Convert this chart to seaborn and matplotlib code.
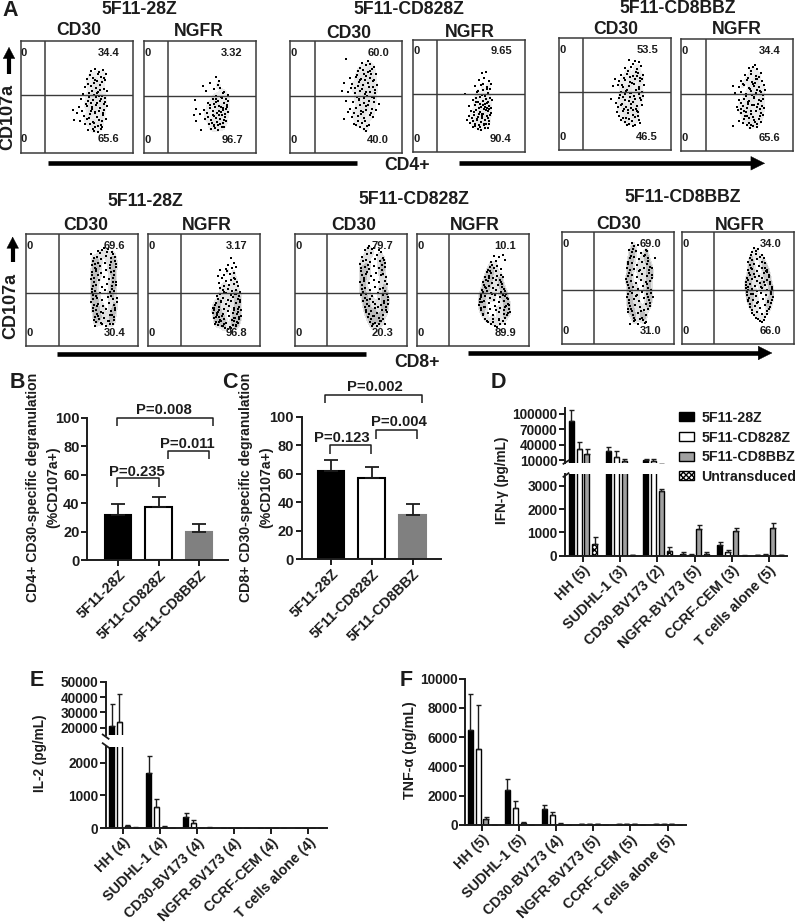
import matplotlib
matplotlib.use('Agg')
import matplotlib.pyplot as plt
import pandas as pd
import seaborn as sns

W, H = 800, 923
INK = '#1c1c1c'

sns.set_theme(style='ticks')
plt.rcParams['font.family'] = ['Liberation Sans', 'DejaVu Sans']
plt.rcParams['font.weight'] = 'bold'
plt.rcParams['axes.labelweight'] = 'bold'
plt.rcParams['axes.edgecolor'] = INK
plt.rcParams['xtick.color'] = INK
plt.rcParams['ytick.color'] = INK
plt.rcParams['text.color'] = INK

# ---- flow panels: dots, in pixels inside each 112 px box
p1_x = [70, 74, 78, 82, 85, 66, 72, 76, 80, 84, 64, 70, 75, 79, 83, 62, 68, 73, 77, 81, 86, 60, 67, 72, 76, 80, 84, 58, 66, 71, 75, 79, 83, 52, 56, 61, 69, 74, 78, 82, 53, 59, 66, 73, 77, 81]
p1_y = [30, 28, 31, 29, 33, 38, 37, 40, 36, 39, 46, 45, 47, 44, 48, 53, 52, 54, 51, 55, 50, 58, 60, 59, 62, 58, 61, 66, 65, 68, 64, 67, 63, 69, 72, 70, 73, 72, 70, 74, 79, 80, 78, 82, 85, 80]
p2_x = [72, 75, 59, 66, 70, 76, 79, 84, 62, 72, 78, 82, 51, 64, 70, 74, 80, 84, 52, 60, 66, 71, 75, 79, 83, 50, 56, 63, 69, 73, 77, 81, 52, 61, 67, 72, 76, 80, 70, 74, 78, 57]
p2_y = [36, 40, 45, 42, 48, 47, 52, 54, 50, 55, 57, 58, 59, 62, 63, 60, 62, 60, 68, 69, 67, 66, 65, 67, 66, 74, 73, 72, 70, 72, 71, 73, 80, 78, 79, 77, 78, 79, 85, 84, 86, 89]
p3_x = [56, 72, 76, 80, 84, 68, 73, 78, 82, 86, 60, 66, 71, 76, 80, 84, 54, 62, 68, 73, 78, 83, 87, 52, 58, 65, 70, 75, 80, 85, 56, 63, 69, 74, 79, 84, 89, 60, 66, 71, 76, 82, 54, 62, 68, 74, 80, 70, 76]
p3_y = [18, 22, 24, 23, 26, 30, 29, 31, 28, 33, 37, 36, 38, 35, 37, 39, 42, 43, 45, 44, 42, 46, 44, 50, 51, 52, 50, 53, 51, 52, 60, 61, 59, 62, 60, 61, 63, 68, 67, 70, 69, 68, 78, 76, 75, 77, 74, 86, 90]
p4_x = [69, 73, 66, 71, 76, 62, 68, 74, 78, 52, 64, 70, 75, 67, 72, 77, 60, 65, 70, 74, 79, 56, 62, 68, 72, 76, 58, 63, 67, 71, 75, 78, 56, 61, 65, 69, 74, 77, 54, 60, 64, 68, 72, 76, 62, 67, 71, 75]
p4_y = [33, 32, 40, 38, 41, 46, 45, 47, 44, 54, 52, 50, 53, 57, 56, 58, 60, 62, 61, 63, 60, 66, 65, 67, 64, 66, 71, 70, 72, 69, 71, 73, 76, 75, 77, 74, 76, 75, 80, 81, 79, 82, 80, 81, 86, 87, 85, 88]
p5_x = [70, 76, 80, 66, 72, 78, 82, 62, 68, 74, 79, 84, 56, 60, 66, 71, 76, 81, 54, 59, 64, 70, 75, 80, 85, 62, 67, 72, 77, 83, 52, 60, 66, 71, 76, 81, 62, 67, 72, 78, 83, 58, 64, 69, 74, 79, 64, 70, 76, 80, 68, 74]
p5_y = [22, 23, 24, 30, 29, 31, 28, 37, 36, 38, 35, 37, 41, 43, 42, 44, 41, 43, 48, 47, 49, 48, 46, 49, 47, 54, 53, 55, 52, 54, 61, 60, 62, 59, 61, 60, 67, 69, 66, 68, 67, 74, 73, 75, 72, 74, 80, 81, 79, 82, 87, 88]
p6_x = [68, 72, 76, 64, 70, 75, 80, 60, 66, 71, 76, 81, 52, 58, 63, 68, 73, 78, 83, 54, 60, 65, 70, 75, 80, 84, 58, 63, 68, 73, 78, 82, 56, 62, 66, 71, 76, 81, 60, 65, 70, 75, 80, 52, 63, 68, 73, 78, 66, 72, 76]
p6_y = [29, 28, 30, 36, 35, 37, 34, 42, 41, 43, 40, 42, 47, 48, 46, 49, 47, 48, 46, 54, 53, 55, 52, 54, 53, 51, 61, 60, 62, 59, 61, 60, 68, 67, 69, 66, 68, 67, 74, 73, 75, 72, 74, 87, 80, 79, 81, 80, 86, 87, 85]
p7_x = [72, 76, 82, 86, 68, 71, 75, 80, 85, 89, 66, 69, 74, 79, 84, 90, 66, 70, 75, 80, 85, 88, 65, 68, 73, 78, 83, 87, 67, 70, 76, 81, 86, 90, 66, 69, 74, 79, 84, 88, 67, 71, 76, 82, 87, 91, 68, 72, 77, 83, 88, 67, 70, 75, 80, 85, 89, 69, 72, 78, 84, 88, 70, 75, 82, 87]
p7_y = [17, 16, 15, 18, 24, 23, 25, 22, 24, 23, 31, 30, 32, 29, 31, 30, 38, 37, 39, 36, 38, 37, 45, 44, 46, 43, 45, 44, 52, 51, 53, 50, 52, 51, 58, 57, 59, 56, 58, 57, 65, 64, 66, 63, 65, 64, 71, 70, 72, 69, 71, 77, 76, 78, 75, 77, 76, 83, 82, 84, 81, 83, 88, 89, 87, 90]
p8_x = [83, 80, 86, 72, 78, 84, 88, 70, 76, 82, 86, 78, 83, 87, 76, 81, 86, 90, 75, 80, 84, 88, 72, 78, 83, 88, 92, 70, 75, 80, 85, 90, 68, 73, 78, 83, 88, 92, 66, 71, 76, 81, 86, 91, 65, 70, 75, 80, 85, 90, 93, 66, 71, 76, 81, 86, 91, 68, 73, 78, 84, 89, 75, 82, 88]
p8_y = [24, 31, 29, 36, 35, 34, 33, 42, 41, 40, 39, 47, 46, 45, 52, 51, 50, 52, 56, 55, 57, 56, 60, 59, 61, 60, 58, 65, 64, 66, 63, 65, 69, 68, 70, 67, 69, 68, 74, 73, 75, 72, 74, 73, 79, 78, 80, 77, 79, 78, 76, 84, 83, 85, 82, 84, 83, 88, 87, 89, 86, 88, 92, 93, 91]
p9_x = [74, 79, 72, 76, 82, 86, 68, 71, 75, 80, 85, 89, 66, 70, 74, 79, 84, 90, 67, 71, 76, 81, 86, 88, 65, 69, 74, 79, 84, 90, 67, 70, 75, 80, 85, 88, 66, 71, 77, 83, 88, 92, 68, 72, 78, 84, 89, 93, 70, 74, 80, 86, 91, 71, 76, 82, 87, 92, 73, 78, 84, 88, 75, 80, 86, 90]
p9_y = [12, 14, 20, 19, 21, 18, 27, 26, 28, 25, 27, 26, 34, 33, 35, 32, 34, 33, 41, 40, 42, 39, 41, 40, 48, 47, 49, 46, 48, 47, 55, 54, 56, 53, 55, 54, 61, 60, 62, 59, 61, 60, 67, 66, 68, 65, 67, 66, 73, 72, 74, 71, 73, 78, 77, 79, 76, 78, 83, 82, 84, 81, 88, 89, 87, 90]
p10_x = [77, 82, 86, 74, 79, 88, 73, 77, 80, 70, 74, 79, 84, 68, 72, 76, 80, 86, 66, 71, 75, 79, 84, 68, 72, 76, 81, 85, 66, 70, 74, 79, 84, 88, 64, 68, 73, 78, 83, 88, 63, 67, 72, 77, 82, 87, 91, 64, 68, 73, 78, 83, 88, 92, 66, 71, 76, 82, 87, 91, 70, 76, 82, 88]
p10_y = [22, 23, 21, 28, 27, 26, 33, 34, 32, 38, 39, 37, 41, 43, 42, 44, 42, 43, 48, 47, 49, 46, 48, 53, 52, 54, 51, 53, 58, 57, 59, 56, 58, 57, 63, 62, 64, 61, 63, 62, 68, 67, 69, 66, 68, 67, 65, 74, 73, 75, 72, 74, 73, 71, 80, 79, 81, 78, 80, 79, 87, 88, 86, 90]
p11_x = [72, 76, 70, 74, 79, 84, 68, 72, 77, 82, 86, 66, 70, 75, 80, 85, 68, 72, 77, 82, 87, 66, 70, 75, 80, 85, 90, 65, 69, 74, 79, 84, 88, 67, 71, 76, 81, 86, 66, 70, 75, 80, 85, 89, 67, 72, 77, 82, 87, 68, 73, 78, 84, 88, 66, 70, 76, 82, 72, 78, 84]
p11_y = [14, 13, 20, 19, 21, 18, 26, 25, 27, 24, 26, 32, 31, 33, 30, 32, 38, 37, 39, 36, 38, 44, 43, 45, 42, 44, 43, 50, 49, 51, 48, 50, 49, 56, 55, 57, 54, 56, 62, 61, 63, 60, 62, 61, 68, 67, 69, 66, 68, 74, 73, 75, 72, 74, 80, 79, 81, 78, 86, 87, 90]
p12_x = [72, 76, 74, 80, 70, 75, 82, 68, 72, 77, 83, 66, 70, 75, 80, 85, 68, 72, 77, 82, 87, 66, 70, 75, 80, 85, 64, 68, 73, 78, 83, 88, 66, 70, 75, 80, 85, 90, 65, 69, 74, 79, 84, 89, 66, 71, 76, 81, 86, 90, 68, 73, 78, 83, 88, 70, 75, 80, 85, 76, 82]
p12_y = [16, 17, 22, 23, 28, 27, 26, 33, 32, 34, 31, 38, 37, 39, 36, 38, 43, 42, 44, 41, 43, 48, 47, 49, 46, 48, 53, 52, 54, 51, 53, 52, 58, 57, 59, 56, 58, 57, 63, 62, 64, 61, 63, 62, 69, 68, 70, 67, 69, 68, 75, 74, 76, 73, 75, 81, 80, 82, 79, 87, 88]

# more dots for the dense parts of each cloud
p1b_x = [69, 73, 81, 77, 71, 84, 67, 79, 75, 83, 65, 70, 86, 74, 78, 68, 82, 72, 76, 80, 63, 69, 85, 73, 77, 71, 81, 67, 75, 79, 74, 70, 78, 83, 64, 72, 76, 68, 80, 74]
p1b_y = [34, 42, 41, 33, 50, 57, 43, 49, 56, 37, 63, 70, 65, 71, 55, 77, 72, 81, 76, 88, 75, 83, 78, 90, 91, 66, 86, 89, 47, 60, 86, 62, 79, 69, 83, 88, 52, 56, 84, 39]
p2b_x = [74, 80, 69, 77, 83, 72, 79, 66, 75, 82, 70, 78, 64, 73, 81, 68, 76, 84, 71, 79, 67, 74, 82, 69, 77, 65, 72, 80, 75, 70]
p2b_y = [44, 51, 58, 56, 64, 61, 69, 64, 70, 68, 75, 74, 76, 81, 76, 82, 83, 71, 87, 82, 88, 89, 80, 74, 66, 83, 58, 86, 74, 84]
p3b_x = [70, 74, 78, 83, 69, 75, 81, 65, 72, 77, 85, 67, 74, 79, 82, 70, 76, 84, 64, 71, 78, 86, 68, 73, 81, 66, 75, 79, 72, 83, 69, 77, 58, 74, 64, 70, 80, 61, 67, 76]
p3b_y = [27, 33, 20, 40, 41, 39, 33, 47, 48, 55, 49, 56, 57, 46, 56, 64, 65, 57, 72, 73, 64, 69, 80, 71, 72, 84, 80, 84, 82, 76, 58, 85, 71, 88, 83, 39, 30, 47, 34, 51]
p4b_x = [70, 74, 65, 69, 73, 77, 63, 67, 72, 76, 61, 66, 70, 75, 59, 64, 69, 73, 78, 57, 62, 66, 71, 75, 60, 65, 69, 74, 63, 68, 72, 76, 70, 66, 73]
p4b_y = [44, 49, 51, 55, 59, 49, 58, 64, 67, 69, 72, 68, 74, 62, 78, 80, 78, 84, 68, 83, 84, 85, 84, 78, 87, 89, 76, 68, 62, 90, 88, 84, 65, 74, 70]
p5b_x = [74, 69, 77, 65, 71, 81, 63, 73, 78, 68, 83, 61, 66, 75, 80, 70, 57, 63, 74, 82, 65, 69, 77, 60, 72, 79, 66, 74, 81, 62, 70, 76, 59, 67, 78, 71, 64, 73, 80, 84]
p5b_y = [26, 33, 34, 40, 39, 40, 47, 45, 38, 52, 41, 57, 56, 58, 56, 63, 65, 66, 64, 62, 71, 72, 71, 78, 70, 78, 84, 77, 85, 82, 86, 87, 69, 80, 73, 55, 59, 83, 51, 58]
p6b_x = [70, 74, 67, 72, 78, 62, 69, 74, 79, 65, 71, 76, 82, 60, 67, 73, 80, 57, 63, 70, 77, 83, 60, 66, 72, 79, 62, 68, 74, 80, 64, 70, 76, 58, 67, 73, 79, 82, 69, 75]
p6b_y = [32, 26, 39, 45, 38, 45, 50, 44, 52, 57, 56, 51, 56, 64, 65, 58, 62, 71, 72, 72, 65, 69, 70, 77, 78, 77, 84, 84, 83, 83, 77, 86, 88, 82, 63, 66, 70, 76, 89, 40]
p7b_x = [65, 67, 69, 72, 87, 89, 84, 68, 66, 70, 88, 90, 86, 65, 67, 71, 85, 89, 91, 68, 66, 72, 86, 88, 84, 69, 67, 70, 90, 87, 85, 71, 73, 83, 74, 81, 78, 76, 80, 77]
p7b_y = [20, 27, 34, 41, 20, 27, 34, 48, 55, 62, 41, 48, 55, 68, 74, 80, 62, 74, 68, 86, 41, 29, 81, 86, 90, 92, 61, 35, 33, 48, 28, 72, 85, 87, 19, 18, 14, 90, 92, 79]
p8b_x = [74, 79, 86, 71, 89, 72, 76, 91, 69, 73, 87, 92, 67, 71, 88, 66, 69, 90, 93, 65, 68, 72, 89, 91, 67, 70, 86, 90, 69, 74, 85, 88, 71, 77, 83, 87, 76, 80, 74, 86]
p8b_y = [44, 37, 44, 49, 48, 54, 58, 62, 62, 67, 60, 66, 71, 76, 69, 76, 81, 75, 82, 74, 83, 86, 80, 85, 90, 91, 87, 89, 79, 92, 91, 92, 88, 94, 94, 84, 90, 95, 82, 76]
p9b_x = [70, 73, 77, 84, 67, 88, 65, 90, 66, 87, 69, 91, 67, 92, 68, 90, 70, 93, 72, 89, 71, 74, 91, 76, 88, 78, 93, 82, 84, 69, 73, 72, 87, 90, 75, 80, 77, 83, 79, 85]
p9b_y = [16, 14, 15, 16, 23, 24, 30, 29, 37, 36, 44, 43, 51, 50, 58, 57, 64, 63, 70, 69, 76, 80, 76, 85, 85, 90, 70, 92, 90, 45, 31, 38, 31, 57, 65, 70, 92, 73, 82, 87]
p10b_x = [71, 75, 84, 69, 83, 67, 85, 65, 87, 64, 89, 63, 90, 62, 91, 64, 92, 66, 90, 68, 88, 71, 86, 74, 83, 78, 80, 72, 86, 69, 67, 73, 89, 65, 93, 87, 76, 82, 75, 79]
p10b_y = [36, 31, 35, 46, 46, 51, 50, 56, 55, 61, 60, 65, 64, 71, 70, 76, 75, 81, 81, 85, 84, 88, 87, 90, 90, 92, 93, 44, 61, 54, 73, 37, 72, 68, 78, 76, 85, 85, 60, 76]
p11b_x = [67, 71, 69, 83, 66, 86, 65, 88, 67, 87, 64, 90, 66, 85, 68, 89, 65, 91, 67, 88, 69, 86, 71, 84, 73, 81, 68, 70, 85, 90, 72, 76, 83, 79, 66, 93, 74, 78, 86, 80]
p11b_y = [18, 17, 24, 23, 30, 29, 36, 35, 41, 41, 47, 46, 53, 52, 59, 58, 65, 65, 71, 71, 77, 77, 83, 83, 88, 88, 92, 11, 19, 36, 89, 92, 91, 79, 77, 26, 64, 38, 65, 86]
p12b_x = [70, 74, 68, 78, 66, 80, 69, 83, 67, 85, 65, 87, 64, 88, 66, 90, 65, 89, 67, 91, 68, 89, 70, 87, 72, 85, 74, 83, 78, 80, 69, 86, 71, 84, 73, 79, 64, 66, 75, 82]
p12b_y = [20, 19, 26, 25, 30, 30, 36, 36, 41, 40, 46, 45, 50, 50, 55, 55, 60, 60, 66, 65, 72, 71, 78, 77, 83, 82, 86, 85, 89, 90, 23, 70, 62, 39, 45, 55, 56, 68, 71, 50]

flow_x = [p1_x + p1b_x, p2_x + p2b_x, p3_x + p3b_x, p4_x + p4b_x, p5_x + p5b_x, p6_x + p6b_x,
          p7_x + p7b_x, p8_x + p8b_x, p9_x + p9b_x, p10_x + p10b_x, p11_x + p11b_x, p12_x + p12b_x]
flow_y = [p1_y + p1b_y, p2_y + p2b_y, p3_y + p3b_y, p4_y + p4b_y, p5_y + p5b_y, p6_y + p6b_y,
          p7_y + p7b_y, p8_y + p8b_y, p9_y + p9b_y, p10_y + p10b_y, p11_y + p11b_y, p12_y + p12b_y]
upper_pct = ['34.4', '3.32', '60.0', '9.65', '53.5', '34.4', '69.6', '3.17', '79.7', '10.1', '69.0', '34.0']
lower_pct = ['65.6', '96.7', '40.0', '90.4', '46.5', '65.6', '30.4', '96.8', '20.3', '89.9', '31.0', '66.0']

# ---- panels B and C
constructs = ['5F11-28Z', '5F11-CD828Z', '5F11-CD8BBZ']
cd4_mean = [31.8, 37.1, 19.6]
cd4_top = [39.5, 44.6, 25.7]
cd8_mean = [62.3, 57.4, 30.9]
cd8_top = [69.8, 65.1, 39.1]

# ---- panels D, E and F (value, then top of the error bar)
series = ['5F11-28Z', '5F11-CD828Z', '5F11-CD8BBZ', 'Untransduced']

ifn_cells = ['HH (5)', 'SUDHL-1 (3)', 'CD30-BV173 (2)', 'NGFR-BV173 (5)', 'CCRF-CEM (3)', 'T cells alone (5)']
ifn_28z = [87000, 27600, 11300, 80, 440, 20]
ifn_828 = [31500, 15900, 9300, 40, 160, 50]
ifn_bbz = [22400, 8700, 2800, 1150, 1060, 1170]
ifn_unt = [520, 20, 210, 90, 5, 20]
ifn_28z_top = [107000, 35400, 13300, 140, 600, 30]
ifn_828_top = [46500, 27600, 12600, 70, 240, 70]
ifn_bbz_top = [32000, 12600, 2870, 1300, 1210, 1390]
ifn_unt_top = [810, 30, 370, 150, 10, 30]

il2_cells = ['HH (4)', 'SUDHL-1 (4)', 'CD30-BV173 (4)', 'NGFR-BV173 (4)', 'CCRF-CEM (4)', 'T cells alone (4)']
il2_28z = [20900, 1670, 335, 2, 2, 2]
il2_828 = [23500, 650, 140, 2, 2, 2]
il2_bbz = [55, 40, 5, 2, 2, 2]
il2_unt = [10, 0, 15, 0, 0, 0]
il2_28z_top = [35200, 2210, 450, 3, 3, 3]
il2_828_top = [41700, 890, 230, 3, 3, 3]
il2_bbz_top = [80, 70, 8, 3, 3, 3]
il2_unt_top = [20, 0, 20, 0, 0, 0]

tnf_cells = ['HH (5)', 'SUDHL-1 (5)', 'CD30-BV173 (4)', 'NGFR-BV173 (5)', 'CCRF-CEM (5)', 'T cells alone (5)']
tnf_28z = [6510, 2415, 1090, 40, 40, 40]
tnf_828 = [5190, 1160, 660, 40, 40, 40]
tnf_bbz = [390, 110, 70, 40, 40, 40]
tnf_unt = [0, 0, 0, 0, 0, 0]
tnf_28z_top = [8930, 3120, 1340, 70, 70, 70]
tnf_828_top = [8200, 1660, 910, 70, 70, 70]
tnf_bbz_top = [520, 190, 120, 70, 70, 70]
tnf_unt_top = [0, 0, 0, 0, 0, 0]

fig = plt.figure(figsize=(W / 100, H / 100), dpi=100)
fig.patch.set_facecolor('white')


def box(left, top, right, bottom, **kw):
    return fig.add_axes([left / W, 1 - bottom / H, (right - left) / W, (bottom - top) / H], **kw)


ov = box(0, 0, W, H, zorder=10)
ov.set_xlim(0, W)
ov.set_ylim(H, 0)
ov.axis('off')
ov.patch.set_alpha(0)


def label(x, y, s, size=12.7, **kw):
    ov.text(x, y, s, fontsize=size, ha='center', va='center', **kw)


def line(xs, ys, lw=1.1, color=INK):
    ov.plot(xs, ys, color=color, lw=lw, solid_capstyle='butt')


# ---- A: flow panels
# left, top, vertical gate, horizontal gate
panel_boxes = [(20.5, 40.5, 45, 94.5), (144, 41, 168, 95.5), (290.3, 41, 314.7, 95.7),
               (413, 39.5, 437, 93.7), (559, 37.7, 583.3, 92.3), (681.3, 39, 705.7, 94),
               (26.3, 234.3, 58.7, 292.7), (148.3, 234.3, 180.7, 292.7), (294.7, 234.3, 327, 293),
               (417, 234.3, 449, 293), (562.3, 231.7, 594.3, 290), (682.3, 231.7, 714.3, 290)]

cd4_shade = sns.light_palette('#dedede', as_cmap=True)
cd8_shade = sns.light_palette('#a8a8a8', as_cmap=True)

for i, (left, top, vg, hg) in enumerate(panel_boxes):
    ax = box(left, top, left + 112, top + 112)
    cd8 = i >= 6
    sns.kdeplot(x=flow_x[i], y=flow_y[i], ax=ax, fill=True, bw_adjust=0.6, thresh=0.3,
                levels=3, cmap=cd8_shade if cd8 else cd4_shade)
    sns.scatterplot(x=flow_x[i], y=flow_y[i], ax=ax, color='black', s=2.6 if cd8 else 2,
                    marker='s', linewidth=0)
    ax.axvline(vg - left, color='#3a3a3a', lw=1.1)
    ax.axhline(hg - top, color='#3a3a3a', lw=1.0)
    ax.set_xlim(0, 112)
    ax.set_ylim(112, 0)
    ax.set_xticks([])
    ax.set_yticks([])
    ax.set_xlabel('')
    ax.set_ylabel('')
    for s in ax.spines.values():
        s.set_linewidth(1.1)
        s.set_color('#3a3a3a')
    for tx, ty, t in [(3.5, 12, '0'), (3.5, 99, '0'), (88, 12, upper_pct[i]), (88, 99, lower_pct[i])]:
        ax.text(tx, ty, t, fontsize=8, ha='center', va='center')

for x, y, t in [(139, 9.5, '5F11-28Z'), (409, 10, '5F11-CD828Z'), (677.3, 8.5, '5F11-CD8BBZ'),
                (145, 201.7, '5F11-28Z'), (414.3, 200, '5F11-CD828Z'), (682.7, 197.3, '5F11-CD8BBZ'),
                (78.3, 30.7, 'CD30'), (199.3, 31, 'NGFR'), (348.3, 33.3, 'CD30'), (469.7, 32.7, 'NGFR'),
                (616, 29.3, 'CD30'), (737.3, 29.7, 'NGFR'),
                (85.7, 225.7, 'CD30'), (207.3, 226, 'NGFR'), (354, 226, 'CD30'), (475, 226, 'NGFR'),
                (619, 224.3, 'CD30'), (740, 225, 'NGFR'),
                (407, 166, 'CD4+'), (417.3, 362.3, 'CD8+')]:
    label(x, y, t)

label(8, 116.7, 'CD107a', size=13, rotation=90)
label(11, 306.3, 'CD107a', size=13, rotation=90)

line([47.7, 356.7], [163.3, 163.3], lw=3.3, color='black')
line([56.7, 366], [354.3, 354.3], lw=3.3, color='black')
for x0, x1, y in [(458.7, 765, 163.3), (468.3, 772.3, 353)]:
    line([x0, x1 - 10], [y, y], lw=3.3, color='black')
    ov.annotate('', xy=(x1, y), xytext=(x1 - 13.5, y),
                arrowprops=dict(arrowstyle='-|>,head_length=0.98,head_width=0.49', lw=0.3,
                                color='black', shrinkA=0, shrinkB=0, mutation_scale=10))
for x, y0, y1 in [(9, 74, 47), (12.7, 262.3, 236.7)]:
    line([x, x], [y0, y1 + 8], lw=3.0, color='black')
    ov.annotate('', xy=(x, y1), xytext=(x, y1 + 12),
                arrowprops=dict(arrowstyle='-|>,head_length=0.8,head_width=0.42', lw=0.3,
                                color='black', shrinkA=0, shrinkB=0, mutation_scale=10))

for x, y, t in [(10, 11, 'A'), (17, 382, 'B'), (230, 382, 'C'), (498, 382, 'D'), (37, 680, 'E'), (406, 680, 'F')]:
    label(x, y, t, size=15.5)


def style_axis(ax, size=9.8):
    for side in ['left', 'bottom']:
        ax.spines[side].set_linewidth(1.4)
    ax.tick_params(width=1.4, length=4, labelsize=size, pad=1.5)
    ax.set_xlabel('')
    ax.set_ylabel('')
    sns.despine(ax=ax)


# ---- B and C
def degranulation(left, right, top, bottom, center, step, mean, err_top):
    ax = box(left, top, right, bottom)
    sns.barplot(x=constructs, y=mean, hue=constructs, ax=ax, width=0.66, legend=False,
                palette=['black', 'white', '#808080'], saturation=1)
    for b, ec in zip(ax.patches, ['black', 'black', '#808080']):
        b.set_edgecolor(ec)
        b.set_linewidth(1.5)
    ax.errorbar(range(3), mean, yerr=[[0, 0, 0], [t - m for t, m in zip(err_top, mean)]],
                fmt='none', ecolor=INK, elinewidth=1.3, capsize=5, capthick=1.3)
    ax.set_xlim((left - center) / step, (right - center) / step)
    ax.set_ylim(0, 100)
    ax.set_yticks([0, 20, 40, 60, 80, 100])
    style_axis(ax, 10.5)
    ax.set_xticks(range(3), constructs, rotation=45, ha='right', rotation_mode='anchor', fontsize=10.4)
    return ax


degranulation(87.3, 227.7, 417.7, 560.3, 118, 40.5, cd4_mean, cd4_top)
degranulation(301.7, 440.7, 417, 559.3, 331, 40.75, cd8_mean, cd8_top)

ov.text(33, 487, 'CD4+ CD30-specific degranulation', rotation=90, fontsize=10.1, ha='center', va='center')
ov.text(53, 487, '(%CD107a+)', rotation=90, fontsize=10.1, ha='center', va='center')
ov.text(246, 487, 'CD8+ CD30-specific degranulation', rotation=90, fontsize=10.1, ha='center', va='center')
ov.text(266, 487, '(%CD107a+)', rotation=90, fontsize=10.1, ha='center', va='center')

# x0, x1, top of bracket, text x, text y, text
brackets = [(117.3, 213.3, 417.7, 164.3, 410.3, 'P=0.008'), (167.7, 209, 450.7, 187.7, 444, 'P=0.011'),
            (117.3, 158.7, 478, 137.3, 471.7, 'P=0.235'), (325.3, 421.7, 394.7, 375.3, 387.3, 'P=0.002'),
            (375.7, 417.3, 430, 399.3, 422.3, 'P=0.004'), (330, 371.3, 445.3, 342, 438, 'P=0.123')]
for x0, x1, top, tx, ty, t in brackets:
    line([x0, x0, x1, x1], [top + 8.5, top, top, top + 8.5], lw=1.1)
    label(tx, ty, t, size=10.7)


# ---- D, E and F
def cytokine_frame(cells, vals):
    frame = pd.DataFrame({'cell': cells})
    for name, v in zip(series, vals):
        frame[name] = v
    return frame.melt(id_vars='cell', var_name='construct', value_name='pg')


def cytokine_bars(ax, frame, tops, xlim):
    sns.barplot(data=frame, x='cell', y='pg', hue='construct', ax=ax, width=0.85, gap=0.37, legend=False,
                palette=['black', 'white', '#a0a0a0', 'white'], saturation=1)
    bars = list(ax.containers)
    for n, c in enumerate(bars):
        xs = [b.get_x() + b.get_width() / 2 for b in c]
        vals = [b.get_height() for b in c]
        for b in c:
            b.set_edgecolor('black')
            b.set_linewidth(1.0)
            if n == 3:
                b.set_hatch('xxxxxx')
        ax.errorbar(xs, vals, yerr=[[0] * 6, [t - v for t, v in zip(tops[n], vals)]], fmt='none',
                    ecolor=INK, elinewidth=1.0, capsize=1.8, capthick=1.0)
    ax.set_xlim(*xlim)
    style_axis(ax)
    return bars


ifn = cytokine_frame(ifn_cells, [ifn_28z, ifn_828, ifn_bbz, ifn_unt])
ifn_tops = [ifn_28z_top, ifn_828_top, ifn_bbz_top, ifn_unt_top]
il2 = cytokine_frame(il2_cells, [il2_28z, il2_828, il2_bbz, il2_unt])
il2_tops = [il2_28z_top, il2_828_top, il2_bbz_top, il2_unt_top]
tnf = cytokine_frame(tnf_cells, [tnf_28z, tnf_828, tnf_bbz, tnf_unt])
tnf_tops = [tnf_28z_top, tnf_828_top, tnf_bbz_top, tnf_unt_top]


def finish_cells(ax, cells):
    ax.set_xticks(range(6), cells, rotation=45, ha='right', rotation_mode='anchor', fontsize=10.3)


# D
d_lim = ((565 - 583) / 37.2, (787.3 - 583) / 37.2)
d_up = box(565, 408.3, 787.3, 462.7)
cytokine_bars(d_up, ifn, ifn_tops, d_lim)
d_up.set_ylim(5400, 111000)
d_up.set_yticks([10000, 40000, 70000, 100000])
d_up.spines['bottom'].set_visible(False)
d_up.set_xticks([])
d_low = box(565, 474.3, 787.3, 555.7)
d_bars = cytokine_bars(d_low, ifn, ifn_tops, d_lim)
d_low.set_ylim(0, 3500)
d_low.set_yticks([0, 1000, 2000, 3000])
finish_cells(d_low, ifn_cells)
line([562.7, 569.3], [464.3, 460], lw=1.3)
line([562.7, 569.3], [477.3, 472.7], lw=1.3)
ov.text(501.7, 480, 'IFN-γ (pg/mL)', rotation=90, fontsize=9.8, ha='center', va='center')
fig.legend(d_bars, series, loc='upper left', bbox_to_anchor=(669 / W, 1 - 401 / H), frameon=False,
           fontsize=10.2, handlelength=1.05, handleheight=0.6, labelspacing=0.4, handletextpad=0.55,
           borderpad=0.2, labelcolor=INK)

# E
e_lim = ((106 - 123.3) / 37, (326.7 - 123.3) / 37)
e_up = box(106, 681.7, 326.7, 735)
cytokine_bars(e_up, il2, il2_tops, e_lim)
e_up.set_ylim(15200, 50000)
e_up.set_yticks([20000, 30000, 40000, 50000])
e_up.spines['bottom'].set_visible(False)
e_up.set_xticks([])
e_low = box(106, 747.3, 326.7, 828)
cytokine_bars(e_low, il2, il2_tops, e_lim)
e_low.set_ylim(0, 2470)
e_low.set_yticks([0, 1000, 2000])
finish_cells(e_low, il2_cells)
line([102, 109.3], [734, 739.3], lw=1.3)
line([102, 109.3], [742.7, 748], lw=1.3)
ov.text(40, 753, 'IL-2 (pg/mL)', rotation=90, fontsize=9.8, ha='center', va='center')

# F
f_ax = box(465.3, 678.7, 686, 825)
cytokine_bars(f_ax, tnf, tnf_tops, ((465.3 - 482) / 37.1, (686 - 482) / 37.1))
f_ax.set_ylim(0, 10000)
f_ax.set_yticks([0, 2000, 4000, 6000, 8000, 10000])
finish_cells(f_ax, tnf_cells)
ov.text(410, 750, 'TNF-α (pg/mL)', rotation=90, fontsize=10.3, ha='center', va='center')

fig.savefig('out.png', dpi=100)
